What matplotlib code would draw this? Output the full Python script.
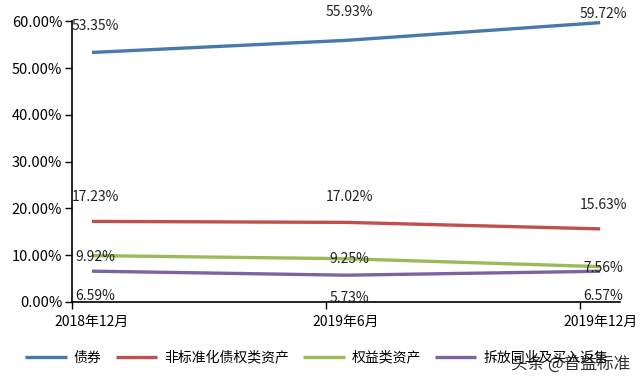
import numpy as np
import matplotlib
matplotlib.use("Agg")
import matplotlib.pyplot as plt

plt.rcParams['font.family'] = ['Noto Sans CJK SC', 'DejaVu Sans']

periods = ["2018年12月", "2019年6月", "2019年12月"]
bonds = [53.35, 55.93, 59.72]
nonstd = [17.23, 17.02, 15.63]
equity = [9.92, 9.25, 7.56]
interbank = [6.59, 5.73, 6.57]
names = ["债券", "非标准化债权类资产", "权益类资产", "拆放同业及买入返售"]
colors = ["#4a78aa", "#bf504d", "#9bbb59", "#7c64a0"]
# label offsets in pixels (up) for each series / point
offsets = [[26, 28, 9], [24, 25, 24], [-1, 0, -1], [-25, -23, -25]]

fig = plt.figure(figsize=(6.4, 3.85), dpi=100)
ax = fig.add_axes([0.1125, 0.2156, 0.8565, 0.729])

x = np.arange(len(periods))
series = [bonds, nonstd, equity, interbank]
for vals, name, c, offs in zip(series, names, colors, offsets):
    ax.plot(x, vals, color=c, lw=2.4, label=name, solid_capstyle='butt')
    for xi, v, o in zip(x, vals, offs):
        ax.annotate("%.2f%%" % v, (xi, v), xytext=(3, o), textcoords='offset pixels',
                    ha='center', va='center', fontsize=10, color='#222222')

shift = 20 / 254
ax.set_xlim(-shift, 2 + shift)
ax.set_ylim(0, 60)
ax.set_xticks(x)
ax.set_xticklabels(periods, fontsize=10)
ax.tick_params(axis='x', which='major', length=0, pad=9)
ax.set_xticks(x - shift, minor=True)
ax.tick_params(axis='x', which='minor', length=5, direction='out', width=1)
ax.set_yticks(np.arange(0, 61, 10))
ax.set_yticklabels(["%.2f%%" % v for v in np.arange(0, 61, 10)], fontsize=10.5)
ax.tick_params(axis='y', length=5, width=1, direction='out', pad=2)
for s in ['top', 'right']:
    ax.spines[s].set_visible(False)
for s in ['left', 'bottom']:
    ax.spines[s].set_color('black')
    ax.spines[s].set_linewidth(1.2)

fig.legend(loc='lower left', bbox_to_anchor=(0.02, 0.02), ncol=4, frameon=False,
           fontsize=10, handlelength=3, columnspacing=1.0, handletextpad=0.5)

fig.text(0.985, 0.055, "头条 @普益标准", ha='right', va='center', fontsize=12, color='#333333')

fig.savefig("out.png", dpi=100)
